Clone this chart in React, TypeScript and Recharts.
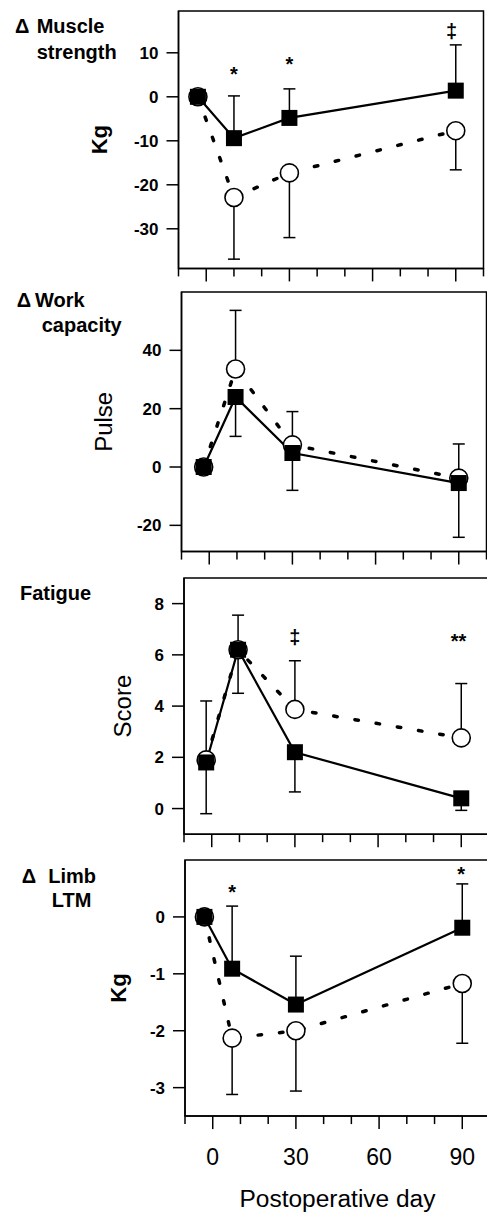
import React from 'react';
import { LineChart, Line, XAxis, YAxis, ErrorBar, ReferenceArea, ReferenceDot } from 'recharts';

const FONT = '"Liberation Sans", Arial, Helvetica, sans-serif';

const dayTicks = [-10, 0, 10, 20, 30, 40, 50, 60, 70, 80, 90, 100];
const dayLabels = [0, 30, 60, 90];

// Δ muscle strength (kg)
const strengthDays = [-3, 10, 30, 90];
const strengthSquare = [0, -9.4, -4.8, 1.4];
const strengthSquareSD = [0, 9.6, 6.6, 10.4];
const strengthCircle = [0, -22.9, -17.3, -7.7];
const strengthCircleSD = [0, 14, 14.7, 8.9];
const strengthMarks = [
  { day: 10, y: 5.2, text: '*' },
  { day: 30, y: 7.4, text: '*' },
  { day: 88.5, y: 14.9, text: '‡' },
];

// Δ work capacity (pulse)
const workDays = [-2, 9.5, 30, 90];
const workSquare = [0, 24, 4.8, -5.5];
const workSquareSD = [0, 13.5, 12.8, 18.6];
const workCircle = [0, 33.6, 7.6, -3.8];
const workCircleSD = [0, 20.1, 11.4, 11.7];

// fatigue score
const fatigueDays = [-2, 9.5, 30, 90];
const fatigueSquare = [1.8, 6.2, 2.2, 0.4];
const fatigueSquareSD = [2.0, 1.7, 1.55, 0.47];
const fatigueCircle = [1.9, 6.2, 3.87, 2.76];
const fatigueCircleSD = [2.3, 1.35, 1.9, 2.12];
const fatigueMarks = [
  { day: 30, y: 6.7, text: '‡' },
  { day: 89, y: 6.53, text: '**' },
];

// Δ limb LTM (kg)
const ltmDays = [-3, 7, 30, 90];
const ltmSquare = [0, -0.91, -1.54, -0.19];
const ltmSquareSD = [0, 1.1, 0.85, 0.77];
const ltmCircle = [0, -2.13, -2.0, -1.17];
const ltmCircleSD = [0, 0.99, 1.06, 1.05];
const ltmMarks = [
  { day: 7, y: 0.44, text: '*' },
  { day: 89.6, y: 0.76, text: '*' },
];

const panels = [
  {
    days: strengthDays, square: strengthSquare, squareSD: strengthSquareSD,
    circle: strengthCircle, circleSD: strengthCircleSD, squareUp: true, marks: strengthMarks,
    domain: [-39, 19.5], yTicks: [-30, -20, -10, 0, 10],
    plotTop: 11.2, plotHeight: 257.4, left: 178.5,
    yLabel: 'Kg', yLabelX: 107.5, yLabelBold: true, yLabelSize: 22,
  },
  {
    days: workDays, square: workSquare, squareSD: workSquareSD,
    circle: workCircle, circleSD: workCircleSD, squareUp: false, marks: [],
    domain: [-29, 60], yTicks: [-20, 0, 20, 40],
    plotTop: 292.3, plotHeight: 259.6, left: 181.5,
    yLabel: 'Pulse', yLabelX: 112, yLabelBold: false, yLabelSize: 24,
  },
  {
    days: fatigueDays, square: fatigueSquare, squareSD: fatigueSquareSD,
    circle: fatigueCircle, circleSD: fatigueCircleSD, squareUp: false, marks: fatigueMarks,
    domain: [-1, 9], yTicks: [0, 2, 4, 6, 8],
    plotTop: 577.7, plotHeight: 256.2, left: 184,
    yLabel: 'Score', yLabelX: 131, yLabelBold: false, yLabelSize: 24,
  },
  {
    days: ltmDays, square: ltmSquare, squareSD: ltmSquareSD,
    circle: ltmCircle, circleSD: ltmCircleSD, squareUp: true, marks: ltmMarks,
    domain: [-3.5, 1], yTicks: [-3, -2, -1, 0],
    plotTop: 860.4, plotHeight: 256.1, left: 185,
    yLabel: 'Kg', yLabelX: 125.5, yLabelBold: true, yLabelSize: 22,
  },
];

const SquareDot = (props: any) => (
  <rect key={'sq' + props.index} x={props.cx - 8} y={props.cy - 8} width={16} height={16} fill="#000" />
);

const CircleDot = (props: any) => (
  <circle key={'ci' + props.index} cx={props.cx} cy={props.cy} r={9} fill="#fff" stroke="#000" strokeWidth={1.6} />
);

const DayTick = ({ x, y, payload, showLabel }: any) => {
  const major = dayLabels.includes(payload.value);
  return (
    <g>
      <line x1={x} x2={x} y1={y} y2={y + (major ? 13 : 8)} stroke="#000" strokeWidth={1.5} />
      {showLabel && major && (
        <text x={x} y={y + 48.5} textAnchor="middle" fontSize={23} fontFamily={FONT} fill="#000">
          {payload.value}
        </text>
      )}
    </g>
  );
};

const Panel = ({ p, last }: any) => {
  const rows = p.days.map((day: number, i: number) => ({
    day,
    square: p.square[i],
    circle: p.circle[i],
    squareErr: p.squareUp ? [0, p.squareSD[i]] : [p.squareSD[i], 0],
    circleErr: p.squareUp ? [p.circleSD[i], 0] : [0, p.circleSD[i]],
  }));
  const axisH = last ? 100 : 20;
  const W = 500;
  return (
    <div style={{ position: 'absolute', left: 0, top: p.plotTop - 5 }}>
      <LineChart
        width={W}
        height={5 + p.plotHeight + axisH}
        data={rows}
        margin={{ top: 5, right: W - p.left - 305, bottom: 0, left: 0 }}
      >
        <XAxis
          type="number"
          dataKey="day"
          domain={[-10, 100]}
          ticks={dayTicks}
          interval={0}
          allowDataOverflow
          height={axisH}
          tickSize={0}
          tickMargin={0}
          tickLine={false}
          axisLine={{ stroke: '#000', strokeWidth: 1.5 }}
          tick={(t: any) => <DayTick {...t} showLabel={last} />}
          label={
            last
              ? {
                  content: (l: any) => {
                    const vb = l.viewBox;
                    return (
                      <text x={vb.x + vb.width / 2} y={vb.y + 90.8} textAnchor="middle" fontSize={24.5} fontFamily={FONT} fill="#000">
                        Postoperative day
                      </text>
                    );
                  },
                }
              : undefined
          }
        />
        <YAxis
          type="number"
          domain={p.domain}
          ticks={p.yTicks}
          interval={0}
          allowDataOverflow
          width={p.left}
          tickSize={12}
          tickMargin={8}
          tickLine={{ stroke: '#000', strokeWidth: 1.5 }}
          axisLine={{ stroke: '#000', strokeWidth: 1.5 }}
          tick={{ fontSize: 17, fontWeight: 'bold', fill: '#000', fontFamily: FONT }}
          label={{
            content: (l: any) => {
              const vb = l.viewBox;
              const cy = vb.y + vb.height / 2;
              return (
                <text
                  x={p.yLabelX}
                  y={cy}
                  transform={`rotate(-90 ${p.yLabelX} ${cy})`}
                  textAnchor="middle"
                  fontSize={p.yLabelSize}
                  fontWeight={p.yLabelBold ? 'bold' : 'normal'}
                  fontFamily={FONT}
                  fill="#000"
                >
                  {p.yLabel}
                </text>
              );
            },
          }}
        />
        <ReferenceArea x1={-10} x2={100} y1={p.domain[0]} y2={p.domain[1]} fill="none" stroke="#000" strokeWidth={1.5} />
        <Line
          type="linear"
          dataKey="circle"
          stroke="#000"
          strokeWidth={3.5}
          strokeDasharray="3.5 18"
          strokeLinecap="round"
          dot={CircleDot}
          activeDot={false}
          isAnimationActive={false}
        >
          <ErrorBar dataKey="circleErr" direction="y" width={6} stroke="#000" strokeWidth={1.5} />
        </Line>
        <Line
          type="linear"
          dataKey="square"
          stroke="#000"
          strokeWidth={2.2}
          dot={SquareDot}
          activeDot={false}
          isAnimationActive={false}
        >
          <ErrorBar dataKey="squareErr" direction="y" width={6} stroke="#000" strokeWidth={1.5} />
        </Line>
        {p.marks.map((m: any, i: number) => (
          <ReferenceDot
            key={i}
            x={m.day}
            y={m.y}
            r={1}
            fill="none"
            stroke="none"
            ifOverflow="visible"
            label={{ value: m.text, position: 'center', fontSize: 20, fontWeight: 'bold', fill: '#000', fontFamily: FONT }}
          />
        ))}
      </LineChart>
    </div>
  );
};

const titleStyle = { fontSize: 20, fontWeight: 'bold' as const, fontFamily: FONT, fill: '#000' };

export default function App() {
  return (
    <div style={{ position: 'absolute', left: 0, top: 0, width: 487, height: 1214, overflow: 'hidden', background: '#fff' }}>
      {panels.map((p, i) => (
        <Panel key={i} p={p} last={i === panels.length - 1} />
      ))}
      <svg width={487} height={1214} style={{ position: 'absolute', left: 0, top: 0, pointerEvents: 'none' }}>
        <text {...titleStyle}>
          <tspan x={15} y={33}>Δ</tspan>
          <tspan x={36.7} y={33}>Muscle</tspan>
        </text>
        <text {...titleStyle} x={36.7} y={59}>strength</text>
        <text {...titleStyle}>
          <tspan x={16.7} y={306.7}>Δ</tspan>
          <tspan x={35} y={306.7}>Work</tspan>
        </text>
        <text {...titleStyle} x={41.7} y={331.7}>capacity</text>
        <text {...titleStyle} x={20} y={600}>Fatigue</text>
        <text {...titleStyle}>
          <tspan x={21.7} y={883.3}>Δ</tspan>
          <tspan x={48.3} y={883.3}>Limb</tspan>
        </text>
        <text {...titleStyle} x={51.7} y={906.7}>LTM</text>
      </svg>
    </div>
  );
}
